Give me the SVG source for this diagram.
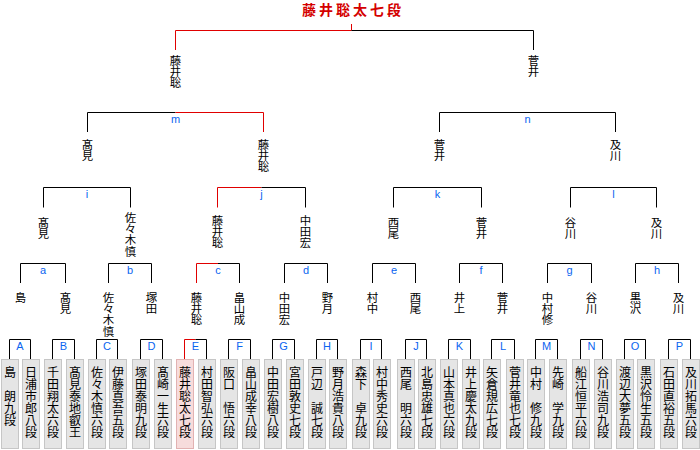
<svg xmlns="http://www.w3.org/2000/svg" width="700" height="450" viewBox="0 0 700 450">
<style>
.bx{fill:#e5e5e5;stroke:#c6c6c6;stroke-width:1}
.bxw{fill:#f7dcdc;stroke:#e2b2b2;stroke-width:1}
.vt{font-family:"Noto Sans CJK JP","Noto Sans CJK SC",sans-serif;font-size:12px;writing-mode:vertical-rl;fill:#000}
.nm{font-family:"Noto Sans CJK JP","Noto Sans CJK SC",sans-serif;font-size:11.4px;writing-mode:vertical-rl;fill:#000}
.lb{font-family:"Liberation Sans",Arial,sans-serif;font-size:11px;fill:#0a64f0;text-anchor:middle}
.ln{fill:none;stroke:#000;stroke-width:1}
.rd{fill:none;stroke:#e00000;stroke-width:1}
.tt{font-family:"Noto Sans CJK JP","Noto Sans CJK SC",sans-serif;font-size:14px;font-weight:bold;fill:#d40000;text-anchor:middle;letter-spacing:3px}
</style>
<rect x="0" y="0" width="700" height="450" fill="#fff"/>
<g id="connectors">
<path class="ln" d="M9.5 359V339.5H30.5V359M52.5 359V339.5H74.5V359M96.5 359V339.5H117.5V359M140.5 359V339.5H162.5V359M228.5 359V339.5H250.5V359M272.5 359V339.5H294.5V359M316.5 359V339.5H337.5V359M360.5 359V339.5H381.5V359M405.5 359V339.5H426.5V359M448.5 359V339.5H470.5V359M491.5 359V339.5H514.5V359M535.5 359V339.5H557.5V359M580.5 359V339.5H602.5V359M624.5 359V339.5H645.5V359M668.5 359V339.5H690.5V359"/>
<path class="rd" d="M184.5 359V339.5H195.5"/>
<path class="ln" d="M195.5 339.5H206.5V359"/>
<path class="ln" d="M20.5 283V263.5H65.5V283M108.5 283V263.5H151.5V283M284.5 283V263.5H327.5V283M372.5 283V263.5H415.5V283M459.5 283V263.5H502.5V283M547.5 283V263.5H591.5V283M635.5 283V263.5H678.5V283"/>
<path class="rd" d="M196.5 283V263.5H218"/>
<path class="ln" d="M218 263.5H239.5V283"/>
<path class="ln" d="M43.5 207.5V187.5H130.5V207.5M393.5 207.5V187.5H481.5V207.5M570.5 207.5V187.5H656.5V207.5"/>
<path class="rd" d="M217.5 207.5V187.5H261.5"/>
<path class="ln" d="M261.5 187.5H305.5V207.5"/>
<path class="ln" d="M87.5 132V112.5H175.5M439.5 132V112.5H615.5V132"/>
<path class="rd" d="M175.5 112.5H263.5V132"/>
<path class="rd" d="M175.5 50V30.5H351.5M351.5 24V30.5"/>
<path class="ln" d="M351.5 30.5H533.5V50"/>
</g>
<g id="labels">
<text class="lb" x="20" y="349.5">A</text><text class="lb" x="63.5" y="349.5">B</text><text class="lb" x="107" y="349.5">C</text><text class="lb" x="151.5" y="349.5">D</text><text class="lb" x="195.5" y="349.5">E</text><text class="lb" x="239.5" y="349.5">F</text><text class="lb" x="283.5" y="349.5">G</text><text class="lb" x="327" y="349.5">H</text><text class="lb" x="371" y="349.5">I</text><text class="lb" x="416" y="349.5">J</text><text class="lb" x="459.5" y="349.5">K</text><text class="lb" x="503" y="349.5">L</text><text class="lb" x="546.5" y="349.5">M</text><text class="lb" x="591.5" y="349.5">N</text><text class="lb" x="635" y="349.5">O</text><text class="lb" x="679.5" y="349.5">P</text>
<text class="lb" x="43" y="273.5">a</text><text class="lb" x="130" y="273.5">b</text><text class="lb" x="218" y="273.5">c</text><text class="lb" x="306" y="273.5">d</text><text class="lb" x="394" y="273.5">e</text><text class="lb" x="481" y="273.5">f</text><text class="lb" x="569.5" y="273.5">g</text><text class="lb" x="657" y="273.5">h</text>
<text class="lb" x="87" y="197.5">i</text><text class="lb" x="261.5" y="197.5">j</text><text class="lb" x="437.5" y="197.5">k</text><text class="lb" x="613.5" y="197.5">l</text>
<text class="lb" x="175.5" y="122.5">m</text><text class="lb" x="527.5" y="122.5">n</text>
</g>
<g id="title"><text class="tt" x="353" y="15">藤井聡太七段</text></g>
<g id="leaf-01"><rect class="bx" x="1.5" y="359.5" width="17" height="89"/><text class="vt" x="10" y="366">島　朗九段</text></g>
<g id="leaf-02"><rect class="bx" x="22.5" y="359.5" width="17" height="89"/><text class="vt" x="31" y="366">日浦市郎八段</text></g>
<g id="leaf-03"><rect class="bx" x="44.5" y="359.5" width="17" height="89"/><text class="vt" x="53" y="366">千田翔太六段</text></g>
<g id="leaf-04"><rect class="bx" x="66.5" y="359.5" width="17" height="89"/><text class="vt" x="75" y="366">髙見泰地叡王</text></g>
<g id="leaf-05"><rect class="bx" x="88.5" y="359.5" width="17" height="89"/><text class="vt" x="97" y="366">佐々木慎六段</text></g>
<g id="leaf-06"><rect class="bx" x="109.5" y="359.5" width="17" height="89"/><text class="vt" x="118" y="366">伊藤真吾五段</text></g>
<g id="leaf-07"><rect class="bx" x="132.5" y="359.5" width="17" height="89"/><text class="vt" x="141" y="366">塚田泰明九段</text></g>
<g id="leaf-08"><rect class="bx" x="154.5" y="359.5" width="17" height="89"/><text class="vt" x="163" y="366">髙崎一生六段</text></g>
<g id="leaf-09"><rect class="bxw" x="176.5" y="359.5" width="17" height="89"/><text class="vt" x="185" y="366">藤井聡太七段</text></g>
<g id="leaf-10"><rect class="bx" x="198.5" y="359.5" width="17" height="89"/><text class="vt" x="207" y="366">村田智弘六段</text></g>
<g id="leaf-11"><rect class="bx" x="220.5" y="359.5" width="17" height="89"/><text class="vt" x="229" y="366">阪口　悟六段</text></g>
<g id="leaf-12"><rect class="bx" x="242.5" y="359.5" width="17" height="89"/><text class="vt" x="251" y="366">畠山成幸八段</text></g>
<g id="leaf-13"><rect class="bx" x="264.5" y="359.5" width="17" height="89"/><text class="vt" x="273" y="366">中田宏樹八段</text></g>
<g id="leaf-14"><rect class="bx" x="286.5" y="359.5" width="17" height="89"/><text class="vt" x="295" y="366">宮田敦史七段</text></g>
<g id="leaf-15"><rect class="bx" x="308.5" y="359.5" width="17" height="89"/><text class="vt" x="317" y="366">戸辺　誠七段</text></g>
<g id="leaf-16"><rect class="bx" x="329.5" y="359.5" width="17" height="89"/><text class="vt" x="338" y="366">野月浩貴八段</text></g>
<g id="leaf-17"><rect class="bx" x="352.5" y="359.5" width="17" height="89"/><text class="vt" x="361" y="366">森下　卓九段</text></g>
<g id="leaf-18"><rect class="bx" x="373.5" y="359.5" width="17" height="89"/><text class="vt" x="382" y="366">村中秀史六段</text></g>
<g id="leaf-19"><rect class="bx" x="397.5" y="359.5" width="17" height="89"/><text class="vt" x="406" y="366">西尾　明六段</text></g>
<g id="leaf-20"><rect class="bx" x="418.5" y="359.5" width="17" height="89"/><text class="vt" x="427" y="366">北島忠雄七段</text></g>
<g id="leaf-21"><rect class="bx" x="440.5" y="359.5" width="17" height="89"/><text class="vt" x="449" y="366">山本真也六段</text></g>
<g id="leaf-22"><rect class="bx" x="462.5" y="359.5" width="17" height="89"/><text class="vt" x="471" y="366">井上慶太九段</text></g>
<g id="leaf-23"><rect class="bx" x="483.5" y="359.5" width="17" height="89"/><text class="vt" x="492" y="366">矢倉規広七段</text></g>
<g id="leaf-24"><rect class="bx" x="506.5" y="359.5" width="17" height="89"/><text class="vt" x="515" y="366">菅井竜也七段</text></g>
<g id="leaf-25"><rect class="bx" x="527.5" y="359.5" width="17" height="89"/><text class="vt" x="536" y="366">中村　修九段</text></g>
<g id="leaf-26"><rect class="bx" x="549.5" y="359.5" width="17" height="89"/><text class="vt" x="558" y="366">先崎　学九段</text></g>
<g id="leaf-27"><rect class="bx" x="572.5" y="359.5" width="17" height="89"/><text class="vt" x="581" y="366">船江恒平六段</text></g>
<g id="leaf-28"><rect class="bx" x="594.5" y="359.5" width="17" height="89"/><text class="vt" x="603" y="366">谷川浩司九段</text></g>
<g id="leaf-29"><rect class="bx" x="616.5" y="359.5" width="17" height="89"/><text class="vt" x="625" y="366">渡辺大夢五段</text></g>
<g id="leaf-30"><rect class="bx" x="637.5" y="359.5" width="17" height="89"/><text class="vt" x="646" y="366">黒沢怜生五段</text></g>
<g id="leaf-31"><rect class="bx" x="660.5" y="359.5" width="17" height="89"/><text class="vt" x="669" y="366">石田直裕五段</text></g>
<g id="leaf-32"><rect class="bx" x="682.5" y="359.5" width="17" height="89"/><text class="vt" x="691" y="366">及川拓馬六段</text></g>
<g id="r1-A"><text class="nm" x="20.5" y="291.5">島</text></g>
<g id="r1-B"><text class="nm" x="65.5" y="291.5">髙見</text></g>
<g id="r1-C"><text class="nm" x="108.5" y="291.5">佐々木慎</text></g>
<g id="r1-D"><text class="nm" x="151.5" y="291.5">塚田</text></g>
<g id="r1-E"><text class="nm" x="196.5" y="291.5">藤井聡</text></g>
<g id="r1-F"><text class="nm" x="239.5" y="291.5">畠山成</text></g>
<g id="r1-G"><text class="nm" x="284.5" y="291.5">中田宏</text></g>
<g id="r1-H"><text class="nm" x="327.5" y="291.5">野月</text></g>
<g id="r1-I"><text class="nm" x="372.5" y="291.5">村中</text></g>
<g id="r1-J"><text class="nm" x="415.5" y="291.5">西尾</text></g>
<g id="r1-K"><text class="nm" x="459.5" y="291.5">井上</text></g>
<g id="r1-L"><text class="nm" x="502.5" y="291.5">菅井</text></g>
<g id="r1-M"><text class="nm" x="547.5" y="291.5">中村修</text></g>
<g id="r1-N"><text class="nm" x="591.5" y="291.5">谷川</text></g>
<g id="r1-O"><text class="nm" x="635.5" y="291.5">黒沢</text></g>
<g id="r1-P"><text class="nm" x="678.5" y="291.5">及川</text></g>
<g id="r2-a"><text class="nm" x="43.5" y="216.5">髙見</text></g>
<g id="r2-b"><text class="nm" x="130.5" y="211.5">佐々木慎</text></g>
<g id="r2-c"><text class="nm" x="217.5" y="214.5">藤井聡</text></g>
<g id="r2-d"><text class="nm" x="305.5" y="214.5">中田宏</text></g>
<g id="r2-e"><text class="nm" x="393.5" y="216.5">西尾</text></g>
<g id="r2-f"><text class="nm" x="481.5" y="216.5">菅井</text></g>
<g id="r2-g"><text class="nm" x="570.5" y="216.5">谷川</text></g>
<g id="r2-h"><text class="nm" x="656.5" y="216.5">及川</text></g>
<g id="r3-i"><text class="nm" x="87.5" y="138.5">髙見</text></g>
<g id="r3-j"><text class="nm" x="263.5" y="138.5">藤井聡</text></g>
<g id="r3-k"><text class="nm" x="439.5" y="138.5">菅井</text></g>
<g id="r3-l"><text class="nm" x="615.5" y="138.5">及川</text></g>
<g id="r4-m"><text class="nm" x="175.5" y="54.5">藤井聡</text></g>
<g id="r4-n"><text class="nm" x="533.5" y="54.5">菅井</text></g>
</svg>
